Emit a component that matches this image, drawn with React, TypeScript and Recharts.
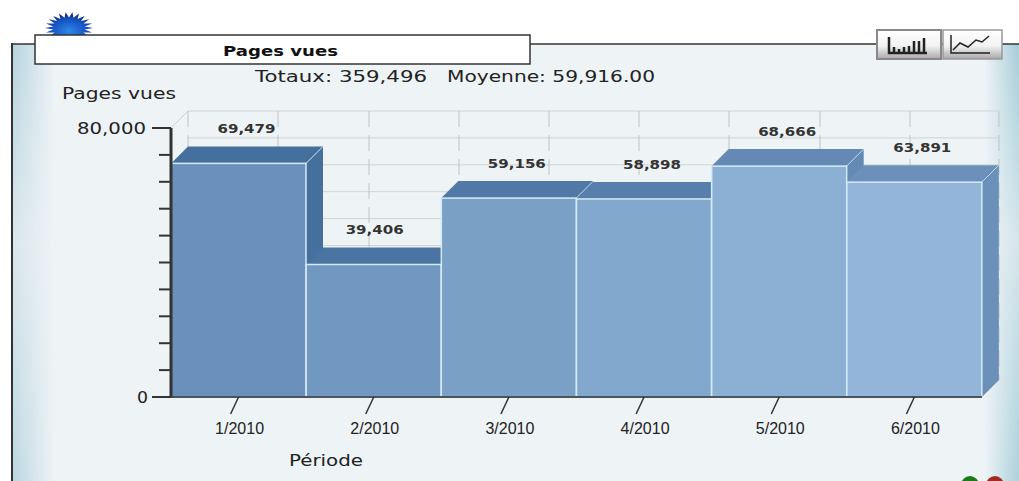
import { BarChart, Bar, XAxis, YAxis, CartesianGrid, Cell, LabelList } from 'recharts';

const periods = ['1/2010', '2/2010', '3/2010', '4/2010', '5/2010', '6/2010'];
const pagesVues = [69479, 39406, 59156, 58898, 68666, 63891];
const yTicks = [0, 8000, 16000, 24000, 32000, 40000, 48000, 56000, 64000, 72000, 80000];
const frontColors = ['#6b90bb', '#7098c0', '#7ba0c6', '#83a8cd', '#8cafd4', '#93b5d9'];
const darkColors = ['#45709e', '#4a75a2', '#5179a6', '#587fac', '#6389b4', '#6b90b9'];

const chartData = periods.map((period, i) => ({ period, value: pagesVues[i] }));

const DEPTH = 17;
const textFont = '"DejaVu Sans", sans-serif';

const Box = (props: any) => {
    const { x, y, width, height, fill, index } = props;
    const dark = darkColors[index];
    const r = x + width;
    const b = y + height;
    return (
        <g>
            <polygon points={`${x},${y} ${x + DEPTH},${y - DEPTH} ${r + DEPTH},${y - DEPTH} ${r},${y}`} fill={dark} />
            <polygon points={`${r},${y} ${r + DEPTH},${y - DEPTH} ${r + DEPTH},${b - DEPTH} ${r},${b}`} fill={dark} />
            <line x1={r} y1={y} x2={r + DEPTH} y2={y - DEPTH} stroke="#b9d8ec" strokeWidth={1} />
            <rect x={x} y={y} width={width} height={height} fill={fill} stroke="#d3eaf7" strokeWidth={1.5} />
        </g>
    );
};

const ValueLabel = ({ x, y, width, value, index }: any) => (
    <text
        x={x + width / 2 + (index === 1 ? 1 : 8)}
        y={y - 30}
        textAnchor="middle"
        fontFamily={textFont}
        fontWeight="bold"
        fontSize={12}
        textLength={58}
        lengthAdjust="spacingAndGlyphs"
        fill="#333"
    >
        {value.toLocaleString('en-US')}
    </text>
);

const XTick = ({ x, y, payload }: any) => (
    <g>
        <line x1={x} y1={y - 8} x2={x - 8} y2={y + 9} stroke="#333" strokeWidth={1.5} />
        <text x={x + 1} y={y + 29} textAnchor="middle" fontFamily='"Liberation Sans", sans-serif' fontSize={16} fill="#222">
            {payload.value}
        </text>
    </g>
);

const YTick = ({ x, y, payload }: any) => {
    const labelled = payload.value === 0 || payload.value === 80000;
    return (
        <g>
            <line x1={x + 8 - (labelled ? 19 : 12)} y1={y} x2={x + 8} y2={y} stroke="#333" strokeWidth={2} />
            {labelled && (
                <text
                    x={payload.value === 0 ? x - 15 : x - 17}
                    y={y + 6}
                    textAnchor="end"
                    fontFamily={textFont}
                    fontSize={15}
                    fill="#222"
                    textLength={payload.value === 0 ? 11 : 69}
                    lengthAdjust="spacingAndGlyphs"
                >
                    {payload.value.toLocaleString('en-US')}
                </text>
            )}
        </g>
    );
};

const Backdrop = () => {
    const spikes = [];
    for (let i = 0; i < 44; i++) {
        const a = (i / 44) * Math.PI * 2;
        const rad = i % 2 === 0 ? 1 : 0.66;
        spikes.push(`${69 + 24 * rad * Math.cos(a)},${28 + 16 * rad * Math.sin(a)}`);
    }
    return (
        <svg width={1019} height={481} style={{ position: 'absolute', left: 0, top: 0 }}>
            <defs>
                <linearGradient id="leftGlow" x1="0" y1="0" x2="1" y2="0">
                    <stop offset="0%" stopColor="#b4d2dd" />
                    <stop offset="100%" stopColor="#b4d2dd" stopOpacity={0} />
                </linearGradient>
                <linearGradient id="rightGlow" x1="0" y1="0" x2="1" y2="0">
                    <stop offset="0%" stopColor="#a4ccd7" stopOpacity={0} />
                    <stop offset="100%" stopColor="#a4ccd7" />
                </linearGradient>
                <linearGradient id="fade" x1="0" y1="0" x2="0" y2="1">
                    <stop offset="0%" stopColor="#fff" />
                    <stop offset="45%" stopColor="#fff" stopOpacity={0.35} />
                    <stop offset="100%" stopColor="#fff" stopOpacity={0.9} />
                </linearGradient>
                <mask id="fadeMask">
                    <rect x={0} y={44} width={1019} height={437} fill="url(#fade)" />
                </mask>
                <linearGradient id="btn" x1="0" y1="0" x2="0" y2="1">
                    <stop offset="0%" stopColor="#ffffff" />
                    <stop offset="55%" stopColor="#f2f2f2" />
                    <stop offset="100%" stopColor="#a8a8a8" />
                </linearGradient>
                <radialGradient id="star" cx="50%" cy="60%" r="55%">
                    <stop offset="0%" stopColor="#2f86ea" />
                    <stop offset="70%" stopColor="#1550c0" />
                    <stop offset="100%" stopColor="#0c2a78" />
                </radialGradient>
            </defs>
            <rect x={12} y={44} width={1007} height={437} fill="#eef3f6" />
            <g mask="url(#fadeMask)">
                <rect x={12} y={44} width={42} height={437} fill="url(#leftGlow)" />
                <rect x={985} y={44} width={34} height={437} fill="url(#rightGlow)" />
            </g>
            <line x1={12} y1={44} x2={1019} y2={44} stroke="#333" strokeWidth={1.5} />
            <line x1={12} y1={43} x2={12} y2={481} stroke="#333" strokeWidth={2} />
            <polygon points={spikes.join(' ')} fill="url(#star)" />
            <rect x={35} y={35} width={495} height={29} fill="#fff" stroke="#333" strokeWidth={1.5} />
            <text x={223} y={56} fontFamily={textFont} fontWeight="bold" fontSize={14} textLength={115} lengthAdjust="spacingAndGlyphs" fill="#111">Pages vues</text>
            <text x={255} y={82} fontFamily={textFont} fontSize={15} textLength={172} lengthAdjust="spacingAndGlyphs" fill="#222">Totaux: 359,496</text>
            <text x={447} y={82} fontFamily={textFont} fontSize={15} textLength={208} lengthAdjust="spacingAndGlyphs" fill="#222">Moyenne: 59,916.00</text>
            <text x={62} y={99} fontFamily={textFont} fontSize={15} textLength={114} lengthAdjust="spacingAndGlyphs" fill="#222">Pages vues</text>
            <text x={289} y={466} fontFamily={textFont} fontSize={15} textLength={74} lengthAdjust="spacingAndGlyphs" fill="#222">Période</text>
            <rect x={877} y={30} width={64} height={29} fill="url(#btn)" stroke="#888" strokeWidth={2} />
            <rect x={943} y={30} width={59} height={29} fill="url(#btn)" stroke="#999" strokeWidth={1.5} />
            <path d="M889 37 V53 H927 M894 53 V47 M899 53 V49 M904 53 V47 M909 53 V46 M914 53 V41 M919 53 V41 M924 53 V38" stroke="#222" strokeWidth={2.5} fill="none" />
            <path d="M951 35 V53 H990 M953 50 L960 43 L968 47 L976 40 L982 42 L989 36" stroke="#222" strokeWidth={1.5} fill="none" />
            <circle cx={970} cy={485} r={9} fill="#1a7a1a" />
            <circle cx={995} cy={485} r={9} fill="#a02a20" />
            <path d="M171 128 L188 111 M982 397 L999 380" stroke="#cfd3d4" strokeWidth={1} />
        </svg>
    );
};

// back wall of the 3D box, shifted up and right of the plot
const BackWall = () => (
    <div style={{ position: 'absolute', left: 0, top: 0 }}>
        <BarChart width={1019} height={481} data={chartData} margin={{ top: 111, right: 20, bottom: 101, left: 188 }}>
            <CartesianGrid vertical={false} stroke="#cfd3d4" />
            <CartesianGrid
                horizontal={false}
                verticalPoints={[188, 278, 369, 459, 549, 639, 729, 820, 910, 999]}
                stroke="#bfc3c4"
                strokeDasharray="16 8"
            />
            <XAxis dataKey="period" hide />
            <YAxis width={0} domain={[0, 80000]} ticks={yTicks} interval={0} tick={() => <g />} axisLine={false} tickLine={false} />
            <Bar dataKey="value" fill="none" isAnimationActive={false} />
        </BarChart>
    </div>
);

export default function App() {
    return (
        <div style={{ position: 'absolute', left: 0, top: 0, width: 1019, height: 481, background: '#fff', overflow: 'hidden' }}>
            <Backdrop />
            <BackWall />
            <div style={{ position: 'absolute', left: 0, top: 0 }}>
                <BarChart width={1019} height={481} data={chartData} margin={{ top: 128, right: 37, bottom: 0, left: 100 }} barCategoryGap={0}>
                    <XAxis dataKey="period" height={84} axisLine={{ stroke: '#4a545c', strokeWidth: 2 }} tickLine={false} tick={<XTick />} interval={0} />
                    <YAxis
                        width={71}
                        domain={[0, 80000]}
                        ticks={yTicks}
                        interval={0}
                        axisLine={{ stroke: '#333', strokeWidth: 3 }}
                        tickLine={false}
                        tick={<YTick />}
                    />
                    <Bar dataKey="value" shape={<Box />} isAnimationActive={false}>
                        {chartData.map((d, i) => (
                            <Cell key={d.period} fill={frontColors[i]} />
                        ))}
                        <LabelList dataKey="value" content={<ValueLabel />} />
                    </Bar>
                </BarChart>
            </div>
        </div>
    );
}
